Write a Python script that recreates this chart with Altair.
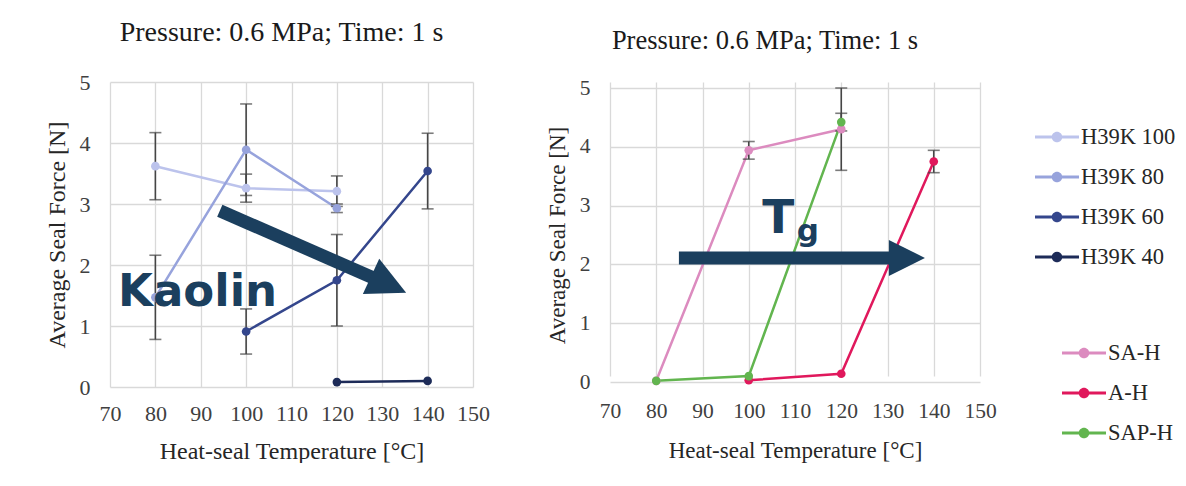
import altair as alt
import pandas as pd

# ---------------- data ----------------
temp_ticks = [70, 80, 90, 100, 110, 120, 130, 140, 150]
force_ticks = [0, 1, 2, 3, 4, 5]

k_series = ["H39K 100", "H39K 80", "H39K 60", "H39K 40"]
k_colors = ["#bcc3ec", "#97a3dc", "#34468c", "#1d2b58"]
k100_t = [80, 100, 120]
k100_f = [3.62, 3.26, 3.21]
k100_e = [0.55, 0.23, 0.25]
k80_t = [80, 100, 120]
k80_f = [1.47, 3.89, 2.93]
k80_e = [0.69, 0.75, 0.07]
k60_t = [100, 120, 140]
k60_f = [0.91, 1.75, 3.54]
k60_e = [0.37, 0.75, 0.62]
k40_t = [120, 140]
k40_f = [0.08, 0.10]
k40_e = [0.0, 0.0]

p_series = ["SA-H", "A-H", "SAP-H"]
p_colors = ["#dc8bbf", "#e0185c", "#62b54f"]
sah_t = [80, 100, 120]
sah_f = [0.02, 3.94, 4.30]
sah_e = [0.0, 0.15, 0.70]
ah_t = [100, 120, 140]
ah_f = [0.03, 0.14, 3.75]
ah_e = [0.0, 0.0, 0.19]
saph_t = [80, 100, 120]
saph_f = [0.02, 0.10, 4.42]
saph_e = [0.0, 0.0, 0.15]

title_text = "Pressure: 0.6 MPa; Time: 1 s"
x_title = "Heat-seal Temperature [°C]"
y_title = "Average Seal Force [N]"

# annotations (data coordinates)
kaolin_text = ["Kaolin"]
kaolin_x = [89.3]
kaolin_y = [1.33]
k_arrow_x = [94.2, 127.7]
k_arrow_y = [2.89, 1.80]
k_head_x = [131.4]
k_head_y = [1.68]
tg_main = ["T"]
tg_main_x = [102.9]
tg_main_y = [2.53]
tg_sub = ["g"]
tg_sub_x = [110.4]
tg_sub_y = [2.40]
p_arrow_x = [84.9, 130.5]
p_arrow_y = [2.11, 2.11]
p_head_x = [134.2]
p_head_y = [2.11]

NAVY = "#1b3f5e"
SERIF = "Liberation Serif"
BOLD_SANS = "DejaVu Sans"
BAR = "#454545"
HEAD = "M-1,-1L1,0L-1,1Z"
LEG_SYM = ("M-1,-0.07L1,-0.07L1,0.07L-1,0.07Z "
           "M0.24,0A0.24,0.24,0,1,1,-0.24,0A0.24,0.24,0,1,1,0.24,0Z")


def frame(series, ts, fs, es):
    rows = []
    for s, t, f, e in zip(series, ts, fs, es):
        for ti, fi, ei in zip(t, f, e):
            rows.append({"series": s, "T": ti, "F": fi, "lo": fi - ei, "hi": fi + ei, "err": ei})
    return pd.DataFrame(rows)


left_df = frame(k_series, [k100_t, k80_t, k60_t, k40_t], [k100_f, k80_f, k60_f, k40_f],
                [k100_e, k80_e, k60_e, k40_e])
right_df = frame(p_series, [sah_t, ah_t, saph_t], [sah_f, ah_f, saph_f], [sah_e, ah_e, saph_e])


def panel(df, series, colors, w, h, y_range, title_size, label_size, axis_title_size,
          legend_x, legend_y, title_dx, title_offset, x_label_pad, x_title_pad):
    xs = alt.Scale(domain=[70, 150], nice=False, zero=False)
    ys = alt.Scale(domain=[0, 5], nice=False, range=y_range)
    x_ax = alt.Axis(values=temp_ticks, title=x_title, labelFontSize=label_size, format="d",
                    labelOverlap=False, labelFlush=False,
                    titleFontSize=axis_title_size, labelPadding=x_label_pad, titlePadding=x_title_pad)
    y_ax = alt.Axis(values=force_ticks, title=y_title, labelFontSize=label_size, format="d",
                    labelOverlap=False, labelFlush=False,
                    titleFontSize=axis_title_size, labelPadding=20, titlePadding=10)
    cscale = alt.Scale(domain=series, range=colors)
    leg = alt.Legend(
        title=None, orient="none", legendX=legend_x, legendY=legend_y,
        symbolType=LEG_SYM, symbolSize=1936, symbolStrokeWidth=0,
        labelFont=SERIF, labelFontSize=22.5, labelColor="#262626",
        labelOffset=2, rowPadding=6)
    base = alt.Chart(df)
    lines = base.mark_line(strokeWidth=2.5).encode(
        x=alt.X("T:Q", scale=xs, axis=x_ax),
        y=alt.Y("F:Q", scale=ys, axis=y_ax),
        color=alt.Color("series:N", scale=cscale, legend=leg),
        order="T:Q",
    )
    ebar_df = df[df["err"] > 0]
    eb = alt.Chart(ebar_df)
    rule = eb.mark_rule(color=BAR, strokeWidth=1.6).encode(
        x="T:Q", y="lo:Q", y2="hi:Q")
    cap_lo = eb.mark_tick(color=BAR, orient="horizontal", size=12, thickness=1.6).encode(
        x="T:Q", y="lo:Q")
    cap_hi = eb.mark_tick(color=BAR, orient="horizontal", size=12, thickness=1.6).encode(
        x="T:Q", y="hi:Q")
    pts = base.mark_circle(size=75, opacity=1).encode(
        x="T:Q", y="F:Q",
        color=alt.Color("series:N", scale=cscale, legend=leg),
    )
    return alt.layer(lines, rule, cap_lo, cap_hi, pts).properties(
        width=w, height=h,
        title=alt.TitleParams(title_text, font=SERIF, fontSize=title_size, fontWeight="normal",
                              color="#1a1a1a", dx=title_dx, offset=title_offset),
    )


left = panel(left_df, k_series, k_colors, 363, 305, [305, 0], 28, 22, 24, 925, 33, -10, 24, 16, 15)

kdf = pd.DataFrame({"t": kaolin_text, "x": kaolin_x, "y": kaolin_y})
kaolin = alt.Chart(kdf).mark_text(font=BOLD_SANS, fontWeight="bold", fontSize=45, color=NAVY,
                                  align="center", baseline="alphabetic").encode(
    x="x:Q", y="y:Q", text="t:N")
kshaft = alt.Chart(pd.DataFrame({"x": k_arrow_x, "y": k_arrow_y})).mark_line(
    color=NAVY, strokeWidth=13, strokeCap="butt").encode(x="x:Q", y="y:Q")
khead = alt.Chart(pd.DataFrame({"x": k_head_x, "y": k_head_y})).mark_point(
    shape=HEAD, size=1500, filled=True, opacity=1, color=NAVY, angle=25).encode(x="x:Q", y="y:Q")
left = alt.layer(left, kshaft, khead, kaolin)

right = panel(right_df, p_series, p_colors, 370, 300, [300, 6], 26.5, 21.5, 23, 452, 249, -30, 23, 18, 18)
tdf = pd.DataFrame({"t": tg_main, "x": tg_main_x, "y": tg_main_y})
tmain = alt.Chart(tdf).mark_text(font=BOLD_SANS, fontWeight="bold", fontSize=47, color=NAVY,
                                 align="left", baseline="alphabetic").encode(x="x:Q", y="y:Q", text="t:N")
sdf = pd.DataFrame({"t": tg_sub, "x": tg_sub_x, "y": tg_sub_y})
tsub = alt.Chart(sdf).mark_text(font=BOLD_SANS, fontWeight="bold", fontSize=31, color=NAVY,
                                align="left", baseline="alphabetic").encode(x="x:Q", y="y:Q", text="t:N")
pshaft = alt.Chart(pd.DataFrame({"x": p_arrow_x, "y": p_arrow_y})).mark_line(
    color=NAVY, strokeWidth=13, strokeCap="butt").encode(x="x:Q", y="y:Q")
phead = alt.Chart(pd.DataFrame({"x": p_head_x, "y": p_head_y})).mark_point(
    shape=HEAD, size=1300, filled=True, opacity=1, color=NAVY, angle=0).encode(x="x:Q", y="y:Q")
right = alt.layer(right, pshaft, phead, tmain, tsub)

chart = alt.hconcat(left, right, spacing=137, bounds="flush").resolve_scale(
    color="independent"
).properties(
    padding={"left": 45, "top": 19, "right": 0, "bottom": 0}, background="white"
).configure_view(stroke=None).configure_axis(
    grid=True, gridColor="#d9d9d9", gridWidth=1.3, domain=False, ticks=False,
    labelFont=SERIF, labelColor="#404040", titleFont=SERIF, titleColor="#262626",
    titleFontWeight="normal",
)

chart.save("out.html", embed_options={"renderer": "svg", "actions": False})
